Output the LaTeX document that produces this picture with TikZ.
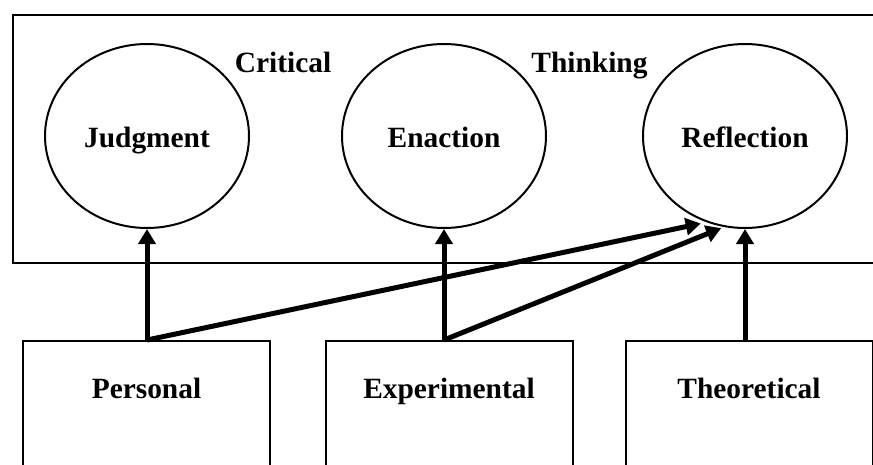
\documentclass[tikz,border=0pt]{standalone}
\usepackage{fontspec}
\setmainfont{Liberation Serif}
\usepackage{tikz}
\usetikzlibrary{shapes.geometric,arrows.meta,positioning,calc}

\tikzset{
  lbl/.style={font=\bfseries\fontsize{14.7}{17}\selectfont},
  bubble/.style={draw, ellipse, line width=1pt, lbl,
    minimum width=102pt, minimum height=92pt, inner sep=0pt,
    text height=12pt, text depth=0pt},
  srcbox/.style={draw, rectangle, line width=1pt, lbl, anchor=north,
    minimum width=123.5pt, inner xsep=0pt, inner ysep=0pt,
    text height=28.5pt, text depth=60pt},
  link/.style={line width=2.5pt, -{Triangle[length=7.5pt,width=8.5pt]}}
}

\begin{document}
\begin{tikzpicture}[x=0.5pt,y=-0.5pt]
  \useasboundingbox (0,0) rectangle (873,465);
  \clip (0,0) rectangle (873,465);

  % outer frame
  \draw[line width=1pt] (13,15) rectangle (890,263);
  \node[lbl, anchor=base] (crit) at (283,73) {Critical};
  \node[lbl, anchor=base] (think) at (589.5,73) {Thinking};

  \node[bubble] (judg) at (147,136) {Judgment};
  \node[bubble] (enac) at (444,136) {Enaction};
  \node[bubble] (refl) at (745,136) {Reflection};

  \node[srcbox] (pers) at (146.5,340) {Personal};
  \node[srcbox] (expe) at (449,340) {Experimental};
  \node[srcbox] (theo) at (749,340) {Theoretical};

  \coordinate (p0) at (judg.south |- pers.north);
  \coordinate (e0) at (enac.south |- expe.north);
  \coordinate (t0) at (refl.south |- theo.north);

  \draw[link] (p0) -- (judg.south);
  \draw[link, shorten >=3pt] (p0) -- (refl.246);
  \draw[link] (e0) -- (enac.south);
  \draw[link, shorten >=1.5pt] (e0) -- (refl.257);
  \draw[link] (t0) -- (refl.south);
\end{tikzpicture}
\end{document}
